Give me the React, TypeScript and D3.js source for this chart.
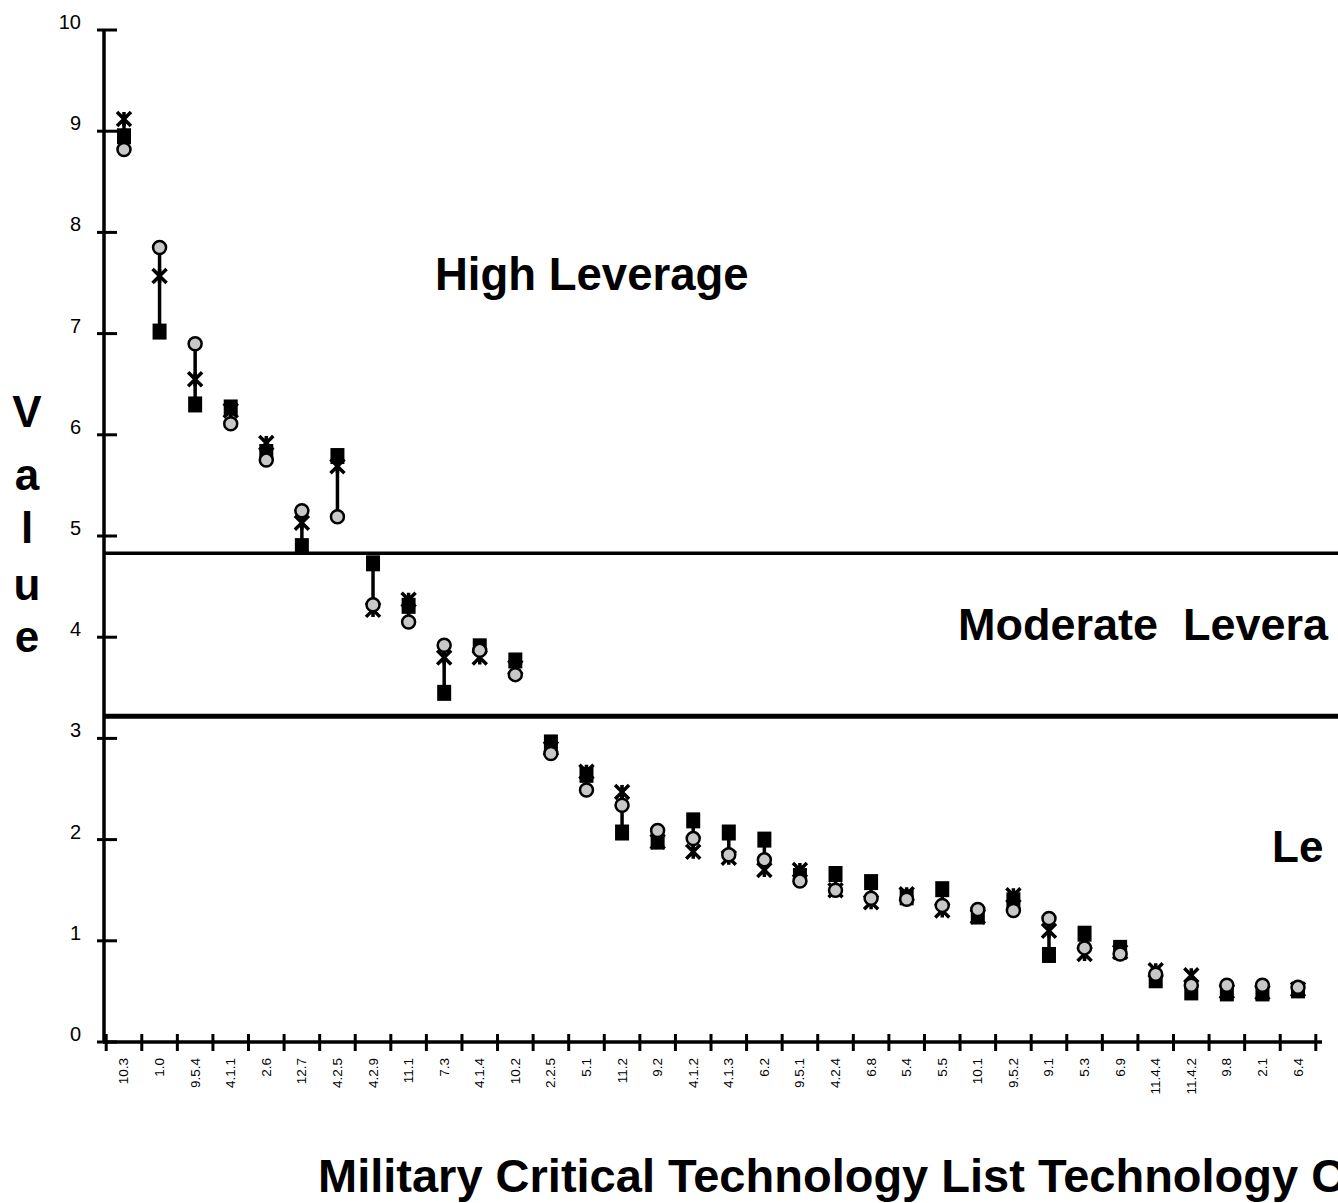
import React from "react";
import * as d3 from "d3";

const categories = ["10.3","1.0","9.5.4","4.1.1","2.6","12.7","4.2.5","4.2.9","11.1","7.3","4.1.4","10.2","2.2.5","5.1","11.2","9.2","4.1.2","4.1.3","6.2","9.5.1","4.2.4","6.8","5.4","5.5","10.1","9.5.2","9.1","5.3","6.9","11.4.4","11.4.2","9.8","2.1","6.4"];
const squareValues = [8.95,7.02,6.3,6.27,5.83,4.9,5.79,4.73,4.31,3.45,3.91,3.77,2.96,2.64,2.07,1.98,2.19,2.07,2.0,1.64,1.66,1.58,1.43,1.51,1.24,1.4,0.86,1.07,0.93,0.61,0.49,0.48,0.48,0.51];
const crossValues = [9.12,7.57,6.55,6.24,5.92,5.13,5.69,4.27,4.37,3.8,3.8,3.7,2.9,2.67,2.47,1.98,1.88,1.82,1.7,1.7,1.5,1.38,1.46,1.3,1.24,1.45,1.1,0.87,0.89,0.71,0.66,0.5,0.49,0.52];
const circleValues = [8.82,7.85,6.9,6.11,5.75,5.25,5.19,4.32,4.15,3.92,3.87,3.63,2.85,2.49,2.34,2.09,2.01,1.85,1.8,1.59,1.5,1.42,1.41,1.35,1.31,1.3,1.22,0.93,0.87,0.67,0.56,0.56,0.56,0.54];
const yTicks = [0,1,2,3,4,5,6,7,8,9,10];
const boundaryValues = [4.83, 3.22];
const yTitle = ["V","a","l","u","e"];

export default function App() {
  const W = 1338, H = 1203;
  const x = d3.scaleBand<string>().domain(categories).range([106.2, 1315.8]).padding(0);
  const y = d3.scaleLinear().domain([0, 10]).range([1042, 30]);
  const step = x.step();
  const cx = (c: string) => (x(c) as number) + step / 2;
  const font = "'Liberation Sans', Arial, sans-serif";
  const crossPath = (px: number, py: number, s: number) =>
    `M${px - s},${py - s}L${px + s},${py + s}M${px - s},${py + s}L${px + s},${py - s}M${px},${py - s}L${px},${py + s}`;

  return (
    <svg width={W} height={H} style={{ position: "absolute", left: 0, top: 0, background: "#fff" }} fontFamily={font}>
      <rect x={0} y={0} width={W} height={H} fill="#fff" />
      {/* y axis */}
      <line x1={104} x2={104} y1={y(10)} y2={y(0)} stroke="#000" strokeWidth={3.5} />
      {yTicks.map(t => (
        <g key={t}>
          <line x1={97} x2={117} y1={y(t)} y2={y(t)} stroke="#000" strokeWidth={3} />
          <text x={81} y={y(t) - 1} textAnchor="end" fontSize={20} fill="#000">{t}</text>
        </g>
      ))}
      {/* x axis */}
      <line x1={103} x2={1322} y1={y(0)} y2={y(0)} stroke="#000" strokeWidth={3.5} />
      {d3.range(categories.length + 1).map(i => (
        <line key={i} x1={106.2 + i * step} x2={106.2 + i * step} y1={y(0) - 8} y2={y(0) + 9} stroke="#000" strokeWidth={3} />
      ))}
      {categories.map(c => (
        <text key={c} transform={`translate(${cx(c)},1058) rotate(-90)`} textAnchor="end" dominantBaseline="central" fontSize={13.5} fill="#000">{c}</text>
      ))}
      {/* boundary lines */}
      <line x1={103} x2={W} y1={y(boundaryValues[0])} y2={y(boundaryValues[0])} stroke="#000" strokeWidth={3.5} />
      <line x1={103} x2={W} y1={y(boundaryValues[1])} y2={y(boundaryValues[1])} stroke="#000" strokeWidth={5} />
      {/* region labels */}
      <text x={435} y={290} fontSize={45.5} fontWeight="bold" fill="#000">High Leverage</text>
      <text x={958} y={640} fontSize={45} fontWeight="bold" fill="#000" style={{ whiteSpace: "pre" }}>Moderate  Levera</text>
      <text x={1272} y={862} fontSize={44} fontWeight="bold" fill="#000">Le</text>
      {/* axis titles */}
      {yTitle.map((ch, i) => (
        <text key={i} x={27} y={[427, 490, 543, 600, 652][i]} textAnchor="middle" fontSize={44} fontWeight="bold" fill="#000">{ch}</text>
      ))}
      <text x={318} y={1192} fontSize={47} fontWeight="bold" fill="#000">Military Critical Technology List Technology C</text>
      {/* data */}
      {categories.map((c, i) => {
        const vals = [squareValues[i], crossValues[i], circleValues[i]];
        const lo = d3.min(vals) as number, hi = d3.max(vals) as number;
        const px = cx(c);
        return (
          <g key={c}>
            <line x1={px} x2={px} y1={y(lo)} y2={y(hi)} stroke="#000" strokeWidth={3.5} />
            <rect x={px - 7} y={y(squareValues[i]) - 8} width={14} height={16} fill="#000" />
            <path d={crossPath(px, y(crossValues[i]), 7)} stroke="#000" strokeWidth={3.5} fill="none" />
            <circle cx={px} cy={y(circleValues[i])} r={6.5} fill="#c8c8c8" stroke="#000" strokeWidth={2.5} />
          </g>
        );
      })}
    </svg>
  );
}
